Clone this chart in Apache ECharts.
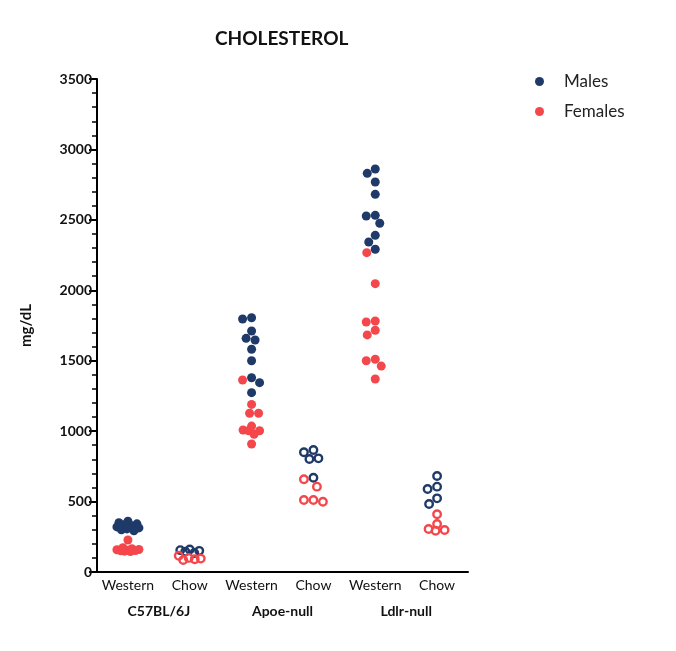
<!DOCTYPE html>
<html>
<head>
<meta charset="utf-8">
<script src="https://cdn.jsdelivr.net/npm/echarts@6/dist/echarts.min.js"></script>
<style>
html,body{margin:0;padding:0;background:#fff;}
#chart{width:676px;height:651px;}
</style>
</head>
<body>
<div id="chart"></div>
<script>
// ---- data ----
const titleText = 'CHOLESTEROL';
const yAxisName = 'mg/dL';
const groups = ['C57BL/6J', 'Apoe-null', 'Ldlr-null'];
const diets = ['Western', 'Chow'];
const yMin = 0, yMax = 3500, yStep = 500;

const c57WesternMales   = [360, 350, 342, 335, 328, 320, 313, 306, 300, 292];
const c57WesternFemales = [227, 172, 165, 160, 158, 155, 152, 150, 148, 145];
const c57ChowMales      = [160, 155, 150, 145, 135];
const c57ChowFemales    = [115, 100, 95, 90, 85];

const apoeWesternMales   = [1805, 1796, 1711, 1659, 1647, 1581, 1500, 1379, 1344, 1273];
const apoeWesternFemales = [1363, 1190, 1127, 1127, 1036, 1008, 1003, 1003, 978, 909];
const apoeChowMales      = [866, 850, 807, 802, 669];
const apoeChowFemales    = [658, 606, 511, 511, 499];

const ldlrWesternMales   = [2861, 2830, 2769, 2681, 2532, 2527, 2476, 2390, 2343, 2291];
const ldlrWesternFemales = [2267, 2047, 1782, 1775, 1716, 1683, 1510, 1500, 1462, 1370];
const ldlrChowMales      = [682, 606, 589, 523, 483];
const ldlrChowFemales    = [410, 341, 305, 298, 293];

// columns in plotting order: [males, females, isChow]
const columns = [
  [c57WesternMales, c57WesternFemales, false],
  [c57ChowMales, c57ChowFemales, true],
  [apoeWesternMales, apoeWesternFemales, false],
  [apoeChowMales, apoeChowFemales, true],
  [ldlrWesternMales, ldlrWesternFemales, false],
  [ldlrChowMales, ldlrChowFemales, true]
];

// ---- style ----
const BLUE = '#1f3a68';
const RED = '#f4474b';
const FONT = 'Lato';

const xCats = [];
groups.forEach(() => diets.forEach(d => xCats.push(d)));

const chart = echarts.init(document.getElementById('chart'), null, {renderer: 'canvas'});

function buildSeries(offsets) {
  const mf = [], ff = [], mh = [], fh = [];
  columns.forEach((col, ci) => {
    const [males, females, chow] = col;
    const om = offsets ? offsets[ci].m : males.map(() => 0);
    const of = offsets ? offsets[ci].f : females.map(() => 0);
    males.forEach((v, i) => (chow ? mh : mf).push([ci + om[i], v]));
    females.forEach((v, i) => (chow ? fh : ff).push([ci + of[i], v]));
  });
  const filled = (name, color, data) => ({
    name, type: 'scatter', xAxisIndex: 0, yAxisIndex: 0, data,
    symbol: 'circle', symbolSize: 9,
    itemStyle: {color: color, opacity: 1},
    emphasis: {disabled: true}, z: 3
  });
  const hollow = (name, color, data) => ({
    name, type: 'scatter', xAxisIndex: 0, yAxisIndex: 0, data,
    symbol: 'circle', symbolSize: 7.5,
    itemStyle: {color: 'rgba(255,255,255,0)', borderColor: color, borderWidth: 2.4, opacity: 1},
    emphasis: {disabled: true}, z: 3
  });
  return [
    filled('Males', BLUE, mf),
    filled('Females', RED, ff),
    hollow('Males', BLUE, mh),
    hollow('Females', RED, fh)
  ];
}

const option = {
  animation: false,
  backgroundColor: '#ffffff',
  title: {
    text: titleText,
    left: 210, top: 24,
    textStyle: {fontFamily: FONT, fontWeight: 'bold', fontSize: 19, color: '#111'}
  },
  legend: {
    data: ['Males', 'Females'],
    orient: 'vertical',
    left: 530, top: 68,
    icon: 'circle',
    itemWidth: 9, itemHeight: 9,
    itemGap: 13,
    selectedMode: false,
    textStyle: {fontFamily: FONT, fontSize: 17, color: '#222', padding: [0, 0, 0, 15]}
  },
  grid: {left: 97, right: 208, top: 79, bottom: 79, containLabel: false, outerBoundsMode: 'none'},
  xAxis: [
    {
      type: 'value', min: -0.5, max: 5.5, show: false
    },
    {
      type: 'category', data: xCats, position: 'bottom', boundaryGap: true,
      axisLine: {show: true, onZero: false, lineStyle: {color: '#000', width: 2}},
      axisTick: {show: false},
      axisLabel: {interval: 0, fontFamily: FONT, fontSize: 14, color: '#111', margin: 6},
      splitLine: {show: false}
    },
    {
      type: 'category', data: groups, position: 'bottom', offset: 26, boundaryGap: true,
      axisLine: {show: false}, axisTick: {show: false},
      axisLabel: {interval: 0, fontFamily: FONT, fontSize: 14, fontWeight: 'bold', color: '#111', margin: 6},
      splitLine: {show: false}
    }
  ],
  yAxis: {
    type: 'value', min: yMin, max: yMax, interval: yStep,
    name: yAxisName, nameLocation: 'middle', nameRotate: 90, nameGap: 63,
    nameTextStyle: {fontFamily: FONT, fontWeight: 'bold', fontSize: 15, color: '#111'},
    axisLine: {show: true, onZero: false, lineStyle: {color: '#000', width: 2}},
    axisTick: {show: true, length: 8, lineStyle: {color: '#000', width: 2}},
    minorTick: {show: true, splitNumber: 5, length: 5, lineStyle: {color: '#000', width: 1.5}},
    axisLabel: {fontFamily: FONT, fontSize: 14, fontWeight: 'bold', color: '#111', margin: 5,
      formatter: v => String(v)},
    splitLine: {show: false}
  },
  series: buildSeries(null)
};
chart.setOption(option);

// ---- beeswarm layout through the chart's own scales ----
const p0 = chart.convertToPixel({xAxisIndex: 0, yAxisIndex: 0}, [0, 0]);
const p1 = chart.convertToPixel({xAxisIndex: 0, yAxisIndex: 0}, [1, 0]);
const unitPx = p1[0] - p0[0];
const maxSpread = 11;
const offsets = columns.map(col => {
  const [males, females, chow] = col;
  const D = chow ? 9.5 : 9;
  const pts = [];
  males.forEach((v, i) => pts.push({s: 'm', i, v}));
  females.forEach((v, i) => pts.push({s: 'f', i, v}));
  pts.forEach(p => { p.y = chart.convertToPixel({xAxisIndex: 0, yAxisIndex: 0}, [0, p.v])[1]; });
  pts.sort((a, b) => b.v - a.v);
  const placed = [];
  const cands = [0];
  for (let d = 0.5; d <= maxSpread; d += 0.5) { cands.push(-d); cands.push(d); }
  pts.forEach(p => {
    let best = null, bestScore = -1;
    for (const c of cands) {
      let minD = Infinity;
      for (const q of placed) {
        const dd = Math.hypot(q.x - c, q.y - p.y);
        if (dd < minD) minD = dd;
      }
      if (minD >= D) { best = c; bestScore = Infinity; break; }
      if (minD > bestScore) { bestScore = minD; best = c; }
    }
    p.x = best;
    placed.push(p);
  });
  const res = {m: males.map(() => 0), f: females.map(() => 0)};
  pts.forEach(p => { res[p.s][p.i] = p.x / unitPx; });
  return res;
});
chart.setOption({series: buildSeries(offsets)});
</script>
</body>
</html>
